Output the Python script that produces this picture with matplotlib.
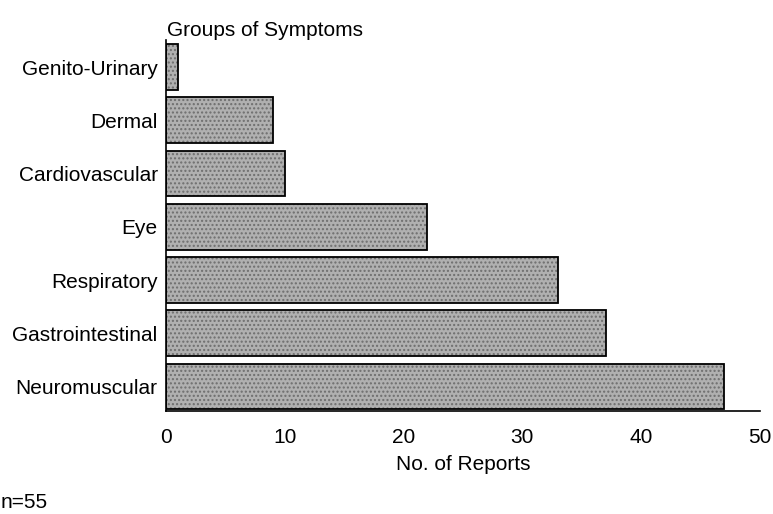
import matplotlib
matplotlib.use("Agg")
import matplotlib.pyplot as plt

plt.rcParams['font.family'] = ['Liberation Sans', 'DejaVu Sans']

groups = ["Neuromuscular", "Gastrointestinal", "Respiratory", "Eye",
          "Cardiovascular", "Dermal", "Genito-Urinary"]
reports = [47, 37, 33, 22, 10, 9, 1]
xticks = [0, 10, 20, 30, 40, 50]

FS = 15

fig = plt.figure(figsize=(7.73, 5.14), dpi=100)
ax = fig.add_axes([166 / 773, 1 - 411 / 514, (760 - 166) / 773, (411 - 40) / 514])

pos = list(range(len(groups)))
# halftone-like fill, then crisp black outline
ax.barh(pos, reports, height=0.86, color="#b0b0b0", edgecolor="#6e6e6e",
        hatch="....", linewidth=0, zorder=2)
ax.barh(pos, reports, height=0.86, fill=False, edgecolor="black",
        linewidth=1.3, zorder=3)

ax.set_xlim(0, 50)
ax.set_ylim(-0.46, 6.51)
ax.set_yticks(pos)
ax.set_yticklabels(groups, fontsize=FS)
ax.set_xticks(xticks)
ax.set_xticklabels([str(t) for t in xticks], fontsize=FS)
ax.tick_params(axis='both', length=0)
ax.tick_params(axis='y', pad=6)
ax.tick_params(axis='x', pad=12)
for s in ("top", "right"):
    ax.spines[s].set_visible(False)
ax.spines["left"].set_linewidth(1.2)
ax.spines["bottom"].set_linewidth(1.2)

ax.set_xlabel("No. of Reports", fontsize=FS, labelpad=6)
fig.text(167 / 773, 1 - 30 / 514, "Groups of Symptoms", fontsize=FS,
         ha="left", va="center")
fig.text(1 / 773, 1 - 503 / 514, "n=55", fontsize=FS, ha="left", va="center")

fig.savefig("out.png", dpi=100)
